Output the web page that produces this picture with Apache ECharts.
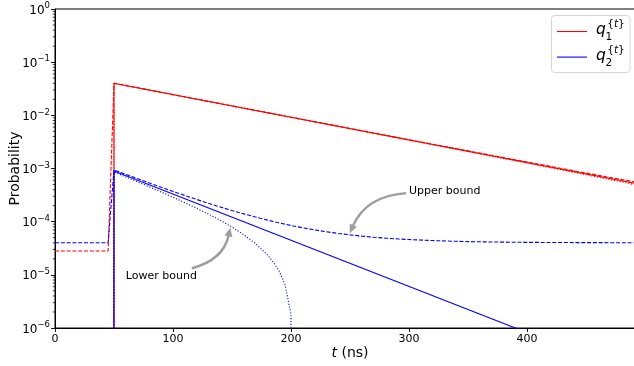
<!DOCTYPE html>
<html><head><meta charset="utf-8">
<script src="https://cdn.jsdelivr.net/npm/echarts@6/dist/echarts.min.js"></script>
<style>html,body{margin:0;padding:0;background:#fff}#c{width:634px;height:366px}</style>
</head><body><div id="c"></div>
<script>
// ---- data ----
const X_TICKS = [0, 100, 200, 300, 400];
const Y_TICKS = [1e-6, 1e-5, 1e-4, 1e-3, 1e-2, 1e-1, 1];
const Y_MINOR_TICKS = [
  2e-6,3e-6,4e-6,5e-6,6e-6,7e-6,8e-6,9e-6,
  2e-5,3e-5,4e-5,5e-5,6e-5,7e-5,8e-5,9e-5,
  2e-4,3e-4,4e-4,5e-4,6e-4,7e-4,8e-4,9e-4,
  2e-3,3e-3,4e-3,5e-3,6e-3,7e-3,8e-3,9e-3,
  2e-2,3e-2,4e-2,5e-2,6e-2,7e-2,8e-2,9e-2,
  2e-1,3e-1,4e-1,5e-1,6e-1,7e-1,8e-1,9e-1
];

// q1 (red)
const t_q1 = [45, 50, 500];
const q1 = [0, 0.0400, 0.000485];
const t_q1_upper = [0, 45, 50, 100, 150, 200, 250, 300, 350, 400, 450, 500];
const q1_upper = [2.8e-5, 2.8e-5, 0.04003, 0.02453, 0.01504, 0.00922, 0.00566, 0.003478, 0.002142, 0.001324, 0.000822, 0.000515];
const t_q1_lower = [45, 50, 100, 150, 200, 250, 300, 350, 400, 450, 500];
const q1_lower = [0, 0.03997, 0.02447, 0.01498, 0.00916, 0.00560, 0.003418, 0.002082, 0.001264, 0.000762, 0.000455];

// q2 (blue)
const t_q2 = [45, 50, 400];
const q2 = [0, 9.0e-4, 8.2e-7];
const t_q2_upper = [0, 45, 50, 60, 70, 80, 90, 100, 110, 120, 130, 140, 150, 160, 170, 180, 190, 200, 210, 220, 230, 240, 250, 260, 270, 280, 290, 300, 320, 340, 360, 380, 400, 440, 500];
const q2_upper = [4.0e-5, 4.0e-5, 9.4e-4, 7.77e-4, 6.43e-4, 5.34e-4, 4.44e-4, 3.71e-4, 3.11e-4, 2.62e-4, 2.22e-4, 1.89e-4, 1.62e-4, 1.40e-4, 1.22e-4, 1.07e-4, 9.47e-5, 8.48e-5, 7.67e-5, 7.00e-5, 6.46e-5, 6.01e-5, 5.65e-5, 5.35e-5, 5.10e-5, 4.90e-5, 4.74e-5, 4.61e-5, 4.41e-5, 4.27e-5, 4.18e-5, 4.12e-5, 4.08e-5, 4.04e-5, 4.01e-5];
const t_q2_lower = [45, 50, 60, 70, 80, 90, 100, 110, 120, 130, 140, 150, 160, 170, 180, 185, 190, 195, 200, 201];
const q2_lower = [0, 8.57e-4, 6.94e-4, 5.60e-4, 4.51e-4, 3.61e-4, 2.88e-4, 2.28e-4, 1.79e-4, 1.39e-4, 1.06e-4, 7.9e-5, 5.67e-5, 3.86e-5, 2.38e-5, 1.74e-5, 1.17e-5, 6.5e-6, 1.8e-6, 0];

const LEGEND_LABELS = [['q', '1'], ['q', '2']];
const ANNOTATIONS = [
  { text: 'Upper bound', textAt: [300, 3.8e-4], from: [297.5, 3.45e-4], to: [250, 6.2e-5] },
  { text: 'Lower bound', textAt: [60, 9.5e-6], from: [116, 1.33e-5], to: [148.5, 7.5e-5] }
];

// ---- styling / building ----
const FONT = 'DejaVu Sans';
const LOG_FLOOR = 1e-300; // non-positive values drop off the bottom of the log axis
const RED = '#ff0000', BLUE = '#0000ff';
const DASH = [4, 1.8], DOT = [1.1, 1.8];

function pairs(ts, vs) { return ts.map((t, i) => [t, vs[i] > 0 ? vs[i] : LOG_FLOOR]); }
function lineSeries(name, ts, vs, color, type) {
  return { name, type: 'line', data: pairs(ts, vs), symbol: 'none', showSymbol: false,
    clip: true, silent: true, animation: false,
    lineStyle: { color, width: 1.1, type } };
}

const chart = echarts.init(document.getElementById('c'), null, { renderer: 'canvas' });

const option = {
  backgroundColor: '#ffffff',
  animation: false,
  grid: { left: 55, top: 9, width: 590, height: 319, containLabel: false, outerBoundsMode: 'none',
    show: true, borderColor: '#000', borderWidth: 1, backgroundColor: 'transparent' },
  xAxis: {
    type: 'value', min: 0, max: 500, interval: 100,
    axisLine: { show: true, onZero: false, lineStyle: { color: '#000', width: 1 } },
    axisTick: { show: true, inside: false, length: 4, lineStyle: { color: '#000', width: 0.9 } },
    axisLabel: { show: true, fontSize: 11, fontFamily: FONT, color: '#000', margin: 6, showMaxLabel: false,
      formatter: v => (X_TICKS.indexOf(v) >= 0 ? String(v) : '') },
    splitLine: { show: false },
    name: '{i|t} (ns)', nameLocation: 'middle', nameGap: 18, nameMoveOverlap: false,
    nameTextStyle: { fontSize: 14, fontFamily: FONT, color: '#000',
      rich: { i: { fontSize: 14, fontFamily: FONT, fontStyle: 'italic', color: '#000' } } }
  },
  yAxis: {
    type: 'log', logBase: 10, min: Y_TICKS[0], max: Y_TICKS[Y_TICKS.length - 1], splitNumber: 6,
    axisLine: { show: true, onZero: false, lineStyle: { color: '#000', width: 1 } },
    axisTick: { show: true, inside: false, length: 4, lineStyle: { color: '#000', width: 0.9 } },
    axisLabel: {
      show: true, margin: 5, color: '#000', fontFamily: FONT,
      formatter: v => {
        const e = Math.round(Math.log10(v));
        return '{b|10}{s|' + (e < 0 ? '\u2212' + (-e) : String(e)) + '}';
      },
      rich: {
        b: { fontSize: 12, fontFamily: FONT, color: '#000', lineHeight: 15, verticalAlign: 'bottom' },
        s: { fontSize: 8.5, fontFamily: FONT, color: '#000', lineHeight: 12, verticalAlign: 'top' }
      }
    },
    splitLine: { show: false }, minorTick: { show: false },
    name: 'Probability', nameLocation: 'middle', nameGap: 33, nameRotate: 90, nameMoveOverlap: false,
    nameTextStyle: { fontSize: 14, fontFamily: FONT, color: '#000' }
  },
  series: [
    lineSeries('q1', t_q1, q1, RED, 'solid'),
    lineSeries('q1 upper', t_q1_upper, q1_upper, RED, DASH),
    lineSeries('q1 lower', t_q1_lower, q1_lower, RED, DOT),
    lineSeries('q2', t_q2, q2, BLUE, 'solid'),
    lineSeries('q2 upper', t_q2_upper, q2_upper, BLUE, DASH),
    lineSeries('q2 lower', t_q2_lower, q2_lower, BLUE, DOT),
    {
      type: 'custom', name: 'minor ticks', silent: true, clip: false, animation: false,
      data: Y_MINOR_TICKS.map(v => [0, v]),
      renderItem: (params, api) => {
        const p = api.coord([0, api.value(1)]);
        return { type: 'line', shape: { x1: p[0] - 2.3, y1: p[1], x2: p[0], y2: p[1] },
          style: { stroke: '#000', lineWidth: 0.7 } };
      }
    }
  ]
};
chart.setOption(option);

// ---- legend + annotations (graphic) ----
const g = [];
g.push({ type: 'rect', z: 100, shape: { x: 551.5, y: 15.5, width: 78.5, height: 57, r: 3 },
  style: { fill: 'rgba(255,255,255,0.85)', stroke: '#d6d6d6', lineWidth: 1 } });
const legendColors = [RED, BLUE];
LEGEND_LABELS.forEach((lab, i) => {
  const dy = i * 25.6;
  g.push({ type: 'line', z: 101, shape: { x1: 557, y1: 31.5 + dy, x2: 587, y2: 31.5 + dy },
    style: { stroke: legendColors[i], lineWidth: 1.1 } });
  const txt = (s, x, y, size, italic) => ({ type: 'text', z: 101, x, y,
    style: { text: s, fontSize: size, fontFamily: FONT, fontStyle: italic ? 'italic' : 'normal',
      fill: '#000', align: 'left', verticalAlign: 'middle' } });
  g.push(txt(lab[0], 596, 30 + dy, 15.5, true));
  g.push(txt(lab[1], 605.5, 37.4 + dy, 10.5, false));
  g.push(txt('{', 607.3, 24.7 + dy, 10.5, false));
  g.push(txt('t', 614.0, 24.7 + dy, 10.5, true));
  g.push(txt('}', 618.1, 24.7 + dy, 10.5, false));
});

const ARROW_COLOR = '#9d9d9d';
ANNOTATIONS.forEach(a => {
  const tp = chart.convertToPixel({ xAxisIndex: 0, yAxisIndex: 0 }, a.textAt);
  const S = chart.convertToPixel({ xAxisIndex: 0, yAxisIndex: 0 }, a.from);
  const E = chart.convertToPixel({ xAxisIndex: 0, yAxisIndex: 0 }, a.to);
  g.push({ type: 'text', z: 90, x: tp[0], y: tp[1],
    style: { text: a.text, fontSize: 11, fontFamily: FONT, fill: '#000', align: 'left', verticalAlign: 'middle' } });
  const rad = 0.3;
  const mx = (S[0] + E[0]) / 2, my = (S[1] + E[1]) / 2;
  const dx = E[0] - S[0], dy = E[1] - S[1];
  const C = [mx - rad * dy, my + rad * dx];
  let ux = E[0] - C[0], uy = E[1] - C[1];
  const len = Math.hypot(ux, uy); ux /= len; uy /= len;
  const L = 8, W = 3.6;
  const B = [E[0] - ux * L, E[1] - uy * L];
  g.push({ type: 'bezierCurve', z: 90, shape: { x1: S[0], y1: S[1], x2: B[0], y2: B[1], cpx1: C[0], cpy1: C[1] },
    style: { stroke: ARROW_COLOR, lineWidth: 2.4, fill: null } });
  g.push({ type: 'polygon', z: 90, shape: { points: [E, [B[0] - uy * W, B[1] + ux * W], [B[0] + uy * W, B[1] - ux * W]] },
    style: { fill: ARROW_COLOR, stroke: ARROW_COLOR, lineWidth: 0.5 } });
});
chart.setOption({ graphic: { elements: g } });
</script>
</body></html>
